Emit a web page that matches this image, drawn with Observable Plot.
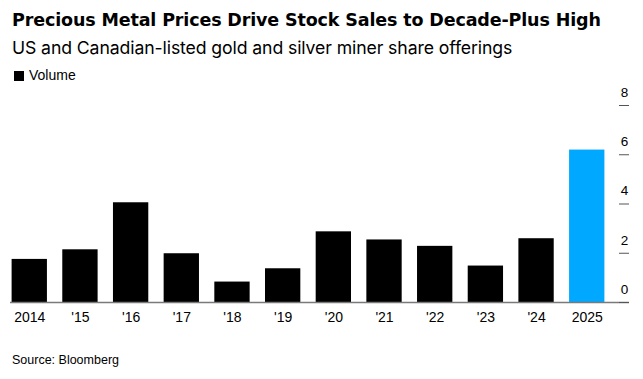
<!DOCTYPE html>
<html>
<head>
<meta charset="utf-8">
<script src="https://cdn.jsdelivr.net/npm/d3@7"></script>
<script src="https://cdn.jsdelivr.net/npm/@observablehq/plot@0.6"></script>
<style>
  html, body { margin: 0; padding: 0; background: #fff; }
  body { width: 643px; height: 379px; position: relative; overflow: hidden;
         font-family: "Liberation Sans", Arial, sans-serif; color: #000; }
  .abs { position: absolute; white-space: nowrap; }
  #title { left: 12px; top: 12.2px; font-family: "DejaVu Sans", Inter, sans-serif; font-size: 17.5px; line-height: 17.5px; font-weight: bold; letter-spacing: -0.14px; }
  #subtitle { left: 12px; top: 38.6px; font-family: Inter, "Liberation Sans", sans-serif; font-size: 17.65px; line-height: 17.65px; letter-spacing: -0.1px; }
  #legend { left: 14px; top: 68px; font-size: 14px; line-height: 14px; }
  #legend .sw { display: inline-block; width: 10px; height: 10px; background: #000; vertical-align: -1px; margin-right: 5px; }
  #chart { left: 0; top: 82px; }
  #source { left: 12px; top: 354.4px; font-size: 12.5px; line-height: 12.5px; }
</style>
</head>
<body>
<div id="title" class="abs">Precious Metal Prices Drive Stock Sales to Decade-Plus High</div>
<div id="subtitle" class="abs">US and Canadian-listed gold and silver miner share offerings</div>
<div id="legend" class="abs"><span class="sw"></span>Volume</div>
<div id="chart" class="abs"></div>
<div id="source" class="abs">Source: Bloomberg</div>
<script>
const years = ["2014", "'15", "'16", "'17", "'18", "'19", "'20", "'21", "'22", "'23", "'24", "2025"];
const volume = [1.75, 2.14, 4.05, 1.98, 0.83, 1.37, 2.87, 2.54, 2.28, 1.48, 2.59, 6.19];
const highlighted = ["2025"];
const yTicks = [0, 2, 4, 6, 8];

const data = years.map((year, i) => ({year, volume: volume[i], hl: highlighted.includes(year)}));

const chart = Plot.plot({
  width: 643,
  height: 250,
  marginLeft: 4,
  marginRight: 31,
  marginTop: 23,
  marginBottom: 30,
  style: {fontFamily: "'Liberation Sans', Arial, sans-serif", fontSize: "14px", color: "#000", background: "transparent"},
  x: {domain: years, paddingInner: 0.303, paddingOuter: 0.15, round: false, label: null},
  y: {domain: [0, 8], label: null},
  marks: [
    Plot.barY(data, {x: "year", y: "volume", fill: d => d.hl ? "#00a8ff" : "#000"}),
    Plot.ruleY([0], {stroke: "#7a7a7a", strokeWidth: 1.5, insetLeft: 6, insetRight: -17}),
    Plot.tickY(yTicks, {y: d => d, stroke: "#555", strokeWidth: 1, insetLeft: 615, insetRight: -17}),
    Plot.axisY(yTicks, {anchor: "right", tickSize: 0, tickPadding: 12, dy: -13, textAnchor: "middle", fontSize: 13.5, label: null}),
    Plot.axisX({tickSize: 0, tickPadding: 10, label: null, fontSize: 14})
  ]
});
document.getElementById("chart").appendChild(chart);
</script>
</body>
</html>
